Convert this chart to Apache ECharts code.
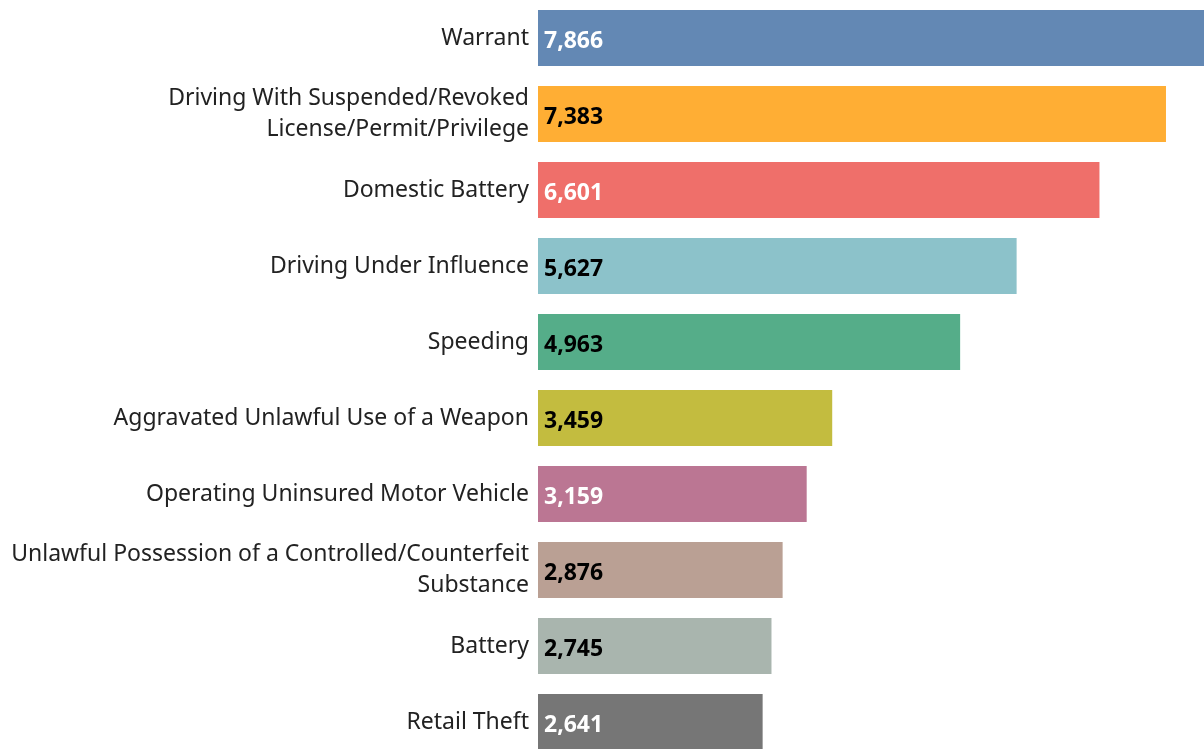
<!DOCTYPE html>
<html>
<head>
<meta charset="utf-8">
<script src="https://cdn.jsdelivr.net/npm/echarts@6/dist/echarts.min.js"></script>
<style>
  html, body { margin: 0; padding: 0; background: #fff; }
  #chart { width: 1204px; height: 749px; }
</style>
</head>
<body>
<div id="chart"></div>
<script>
const categories = [
  'Warrant',
  'Driving With Suspended/Revoked License/Permit/Privilege',
  'Domestic Battery',
  'Driving Under Influence',
  'Speeding',
  'Aggravated Unlawful Use of a Weapon',
  'Operating Uninsured Motor Vehicle',
  'Unlawful Possession of a Controlled/Counterfeit Substance',
  'Battery',
  'Retail Theft'
];
const counts = [7866, 7383, 6601, 5627, 4963, 3459, 3159, 2876, 2745, 2641];

const barColors = ['#6388b4', '#ffae34', '#ef6f6a', '#8cc2ca', '#55ad89',
  '#c3bc3f', '#bb7693', '#baa094', '#a9b5ae', '#767676'];
const labelColors = ['#fff', '#000', '#fff', '#000', '#000',
  '#000', '#fff', '#000', '#000', '#fff'];

// simple word wrap, max chars per line
const wrap = (s, max) => {
  const lines = [];
  let cur = '';
  s.split(' ').forEach(w => {
    if (cur && (cur + ' ' + w).length > max) {
      lines.push(cur);
      cur = w;
    } else {
      cur = cur ? cur + ' ' + w : w;
    }
  });
  lines.push(cur);
  return lines.join('\n');
};

const chart = echarts.init(document.getElementById('chart'));

chart.setOption({
  animation: false,
  grid: { left: 538, right: 0, top: 0, height: 760, outerBoundsMode: 'none' },
  xAxis: {
    type: 'value',
    min: 0,
    max: 7830,
    show: false
  },
  yAxis: {
    type: 'category',
    inverse: true,
    data: categories,
    axisLine: { show: false },
    axisTick: { show: false },
    axisLabel: {
      margin: 9,
      color: '#222',
      fontFamily: 'Noto Sans',
      fontSize: 23,
      lineHeight: 31,
      align: 'right',
      padding: [10, 0, 0, 0],
      formatter: v => wrap(v, 47)
    }
  },
  series: [{
    type: 'bar',
    barWidth: 56,
    data: counts.map((v, i) => ({
      value: v,
      itemStyle: { color: barColors[i] },
      label: { color: labelColors[i] }
    })),
    label: {
      show: true,
      position: 'insideLeft',
      distance: 6,
      offset: [0, 3],
      fontFamily: 'Noto Sans',
      fontWeight: 'bold',
      fontSize: 23,
      formatter: p => p.value.toLocaleString('en-US')
    }
  }]
});
</script>
</body>
</html>
